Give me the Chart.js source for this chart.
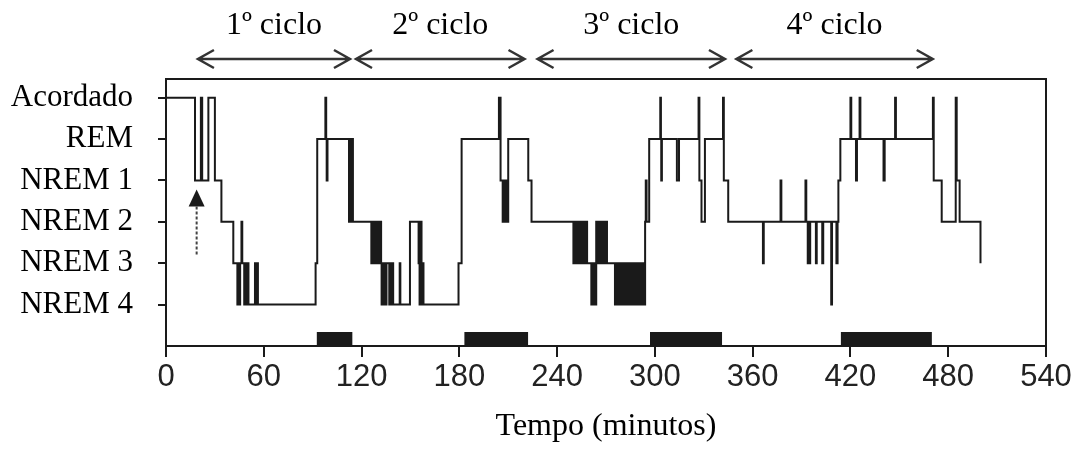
<!DOCTYPE html>
<html>
<head>
<meta charset="utf-8">
<script src="https://cdn.jsdelivr.net/npm/chart.js@4/dist/chart.umd.min.js"></script>
<style>
  html, body { margin: 0; padding: 0; background: #fff; }
  #wrap { width: 1081px; height: 452px; position: relative; }
</style>
</head>
<body>
<div id="wrap"><canvas id="chart"></canvas></div>
<script>
// stage code: 1 = NREM 4 ... 6 = Acordado
const stageNames = ['NREM 4', 'NREM 3', 'NREM 2', 'NREM 1', 'REM', 'Acordado']
const xTickValues = [0, 60, 120, 180, 240, 300, 360, 420, 480, 540]

// [minute, stage] : stage holds from that minute until the next entry
const cycle1Steps = [
  [0, 6], [17.8, 4], [21.4, 6], [22.2, 4], [26, 6], [30, 4], [34, 3], [41.3, 2],
  [43.8, 1], [44.4, 2], [45, 1], [45.5, 2], [46.3, 3], [46.8, 2],
  [48, 1], [48.7, 2], [49.3, 1], [50, 2], [50.6, 1],
  [54.6, 2], [55.2, 1], [55.8, 2], [56.4, 1],
  [91.8, 2], [92.8, 5], [97.8, 6], [98.3, 5], [98.6, 4], [99.1, 5],
  [112.3, 3], [112.9, 5], [113.5, 3], [114.1, 5], [114.7, 3]
]
const cycle2Steps = [
  [126, 2], [126.6, 3], [127.2, 2], [127.8, 3], [128.4, 2], [129, 3], [129.6, 2], [130.2, 3], [130.8, 2], [131.4, 3], [132, 2],
  [132.3, 1], [132.9, 2], [133.5, 1], [134.1, 2], [134.7, 1], [135.3, 2],
  [137, 1], [137.6, 2], [138.2, 1], [138.8, 2], [139.4, 1],
  [143.4, 2], [143.8, 1], [149.7, 3], [155, 2], [155.6, 1], [156.2, 3], [156.8, 1], [157.4, 2], [158, 1],
  [179.5, 2], [181.4, 5], [204.3, 6], [205.3, 4], [206.6, 3], [207.2, 4], [207.8, 3], [208.4, 4], [209, 3], [210, 5],
  [222.3, 4], [224.3, 3]
]
const cycle3Steps = [
  [250, 2], [250.6, 3], [251.2, 2], [251.8, 3], [252.4, 2], [253, 3], [253.6, 2], [254.2, 3], [254.8, 2], [255.4, 3],
  [256, 2], [256.6, 3], [257.2, 2], [257.8, 3], [258.4, 2],
  [261, 1], [261.6, 2], [262.2, 1], [262.8, 2], [263.4, 1],
  [264, 3], [264.6, 2], [265.2, 3], [265.8, 2], [266.4, 3], [267, 2], [267.6, 3], [268.2, 2], [268.8, 3], [269.4, 2], [270, 3], [270.6, 2],
  [275.5, 1], [276.1, 2], [276.7, 1], [277.3, 2], [277.9, 1], [278.5, 2], [279.1, 1], [279.7, 2], [280.3, 1], [280.9, 2],
  [281.5, 1], [282.1, 2], [282.7, 1], [283.3, 2], [283.9, 1], [284.5, 2], [285.1, 1], [285.7, 2], [286.3, 1], [286.9, 2],
  [287.5, 1], [288.1, 2], [288.7, 1], [289.3, 2], [289.9, 1], [290.5, 2], [291.1, 1], [291.7, 2], [292.3, 1], [292.9, 2], [293.5, 1],
  [294, 3], [294.4, 4], [294.9, 3], [296.5, 5],
  [303.3, 6], [303.7, 5], [303.9, 4], [304.3, 5], [313.5, 4], [314.8, 5],
  [326.8, 6], [327.3, 4], [328.6, 3], [330.7, 5], [341.8, 6], [342.3, 4], [345, 3]
]
const cycle4Steps = [
  [366.3, 2], [366.8, 3], [377.1, 4], [377.6, 3], [392.4, 4], [392.9, 3], [393.8, 2], [394.3, 3], [394.8, 2], [395.3, 3],
  [398.8, 2], [399.3, 3], [402.7, 2], [403.3, 3], [408.2, 1], [408.7, 3], [411.4, 2], [412.1, 3], [412.6, 4], [413.8, 5],
  [420, 6], [420.5, 5], [423.4, 4], [424, 5], [425.6, 6], [426.1, 5], [440.3, 4], [441, 5], [447.4, 6], [447.9, 5],
  [470.6, 6], [471.1, 4], [476, 3], [484.6, 6], [485.2, 4], [487, 3], [499.8, 2]
]

// REM periods marked by the black bars on the time axis
const remStart = [92.4, 183, 297, 414]
const remEnd = [114.5, 222.3, 341.3, 470]
const remBarHeight = 0.34

// cycle arrows over the plot
const cycleLabels = ['1º ciclo', '2º ciclo', '3º ciclo', '4º ciclo']
const cycleStart = [19.6, 116.6, 228, 350]
const cycleEnd = [112.9, 220, 343, 470.5]

// marker arrow under the first sleep onset
const onsetMinute = 18.8

const hypnoData = [...cycle1Steps, ...cycle2Steps, ...cycle3Steps, ...cycle4Steps].map(([x, y]) => ({ x, y }))

const remData = []
remStart.forEach((s, i) => {
  remData.push({ x: s, y: remBarHeight })
  remData.push({ x: remEnd[i], y: remBarHeight })
  remData.push({ x: remEnd[i] + 0.01, y: null })
})

const ink = '#1a1a1a'
const serif = '"Liberation Serif", "Times New Roman", serif'

const decorations = {
  id: 'decorations',
  afterDraw(chart) {
    const { ctx, chartArea, scales } = chart
    const x = scales.x
    const y = scales.y
    ctx.save()
    // frame top and right
    ctx.strokeStyle = ink
    ctx.lineWidth = 2
    ctx.beginPath()
    ctx.moveTo(chartArea.left, chartArea.top)
    ctx.lineTo(chartArea.right, chartArea.top)
    ctx.lineTo(chartArea.right, chartArea.bottom)
    ctx.stroke()

    // cycle arrows + labels
    const arrowY = 59
    ctx.lineWidth = 2.5
    ctx.font = '32px ' + serif
    ctx.textAlign = 'center'
    ctx.textBaseline = 'alphabetic'
    cycleLabels.forEach((label, i) => {
      const x0 = x.getPixelForValue(cycleStart[i])
      const x1 = x.getPixelForValue(cycleEnd[i])
      ctx.strokeStyle = '#333'
      ctx.beginPath()
      ctx.moveTo(x0, arrowY)
      ctx.lineTo(x1, arrowY)
      ctx.moveTo(x0 + 16, arrowY - 9)
      ctx.lineTo(x0, arrowY)
      ctx.lineTo(x0 + 16, arrowY + 9)
      ctx.moveTo(x1 - 16, arrowY - 9)
      ctx.lineTo(x1, arrowY)
      ctx.lineTo(x1 - 16, arrowY + 9)
      ctx.stroke()
      ctx.fillStyle = '#000'
      ctx.fillText(label, (x0 + x1) / 2, 34)
    })

    // small upward arrow
    const ax = x.getPixelForValue(onsetMinute)
    const tipY = y.getPixelForValue(3.78)
    ctx.fillStyle = ink
    ctx.beginPath()
    ctx.moveTo(ax, tipY)
    ctx.lineTo(ax - 8, tipY + 17)
    ctx.lineTo(ax + 8, tipY + 17)
    ctx.closePath()
    ctx.fill()
    ctx.strokeStyle = '#444'
    ctx.lineWidth = 2
    ctx.setLineDash([3, 2])
    ctx.beginPath()
    ctx.moveTo(ax, tipY + 17)
    ctx.lineTo(ax, y.getPixelForValue(2.2))
    ctx.stroke()
    ctx.restore()
  }
}

new Chart(document.getElementById('chart'), {
  type: 'line',
  data: {
    datasets: [
      {
        label: 'Hipnograma',
        data: hypnoData,
        stepped: true,
        borderColor: ink,
        borderWidth: 2,
        pointRadius: 0,
        fill: false
      },
      {
        label: 'REM',
        data: remData,
        borderWidth: 0,
        borderColor: ink,
        backgroundColor: ink,
        pointRadius: 0,
        spanGaps: false,
        fill: 'origin'
      }
    ]
  },
  options: {
    responsive: true,
    maintainAspectRatio: false,
    animation: false,
    layout: { padding: { top: 79, right: 35, left: 0, bottom: 0 } },
    plugins: { legend: { display: false }, tooltip: { enabled: false } },
    scales: {
      x: {
        type: 'linear',
        min: 0,
        max: 540,
        afterBuildTicks: (scale) => { scale.ticks = xTickValues.map(v => ({ value: v })) },
        ticks: {
          color: '#222',
          padding: 2,
          maxRotation: 0,
          font: { family: '"Liberation Sans", Arial, sans-serif', size: 31 }
        },
        grid: { drawOnChartArea: false, tickLength: 11, color: ink, lineWidth: 2 },
        border: { display: true, color: ink, width: 2 },
        title: {
          display: true,
          text: 'Tempo (minutos)',
          color: '#000',
          font: { family: serif, size: 32 },
          padding: { top: 0, bottom: 6 }
        },
        afterFit: (scale) => { scale.height = 106 }
      },
      y: {
        min: 0,
        max: 6.45,
        afterBuildTicks: (scale) => { scale.ticks = [1, 2, 3, 4, 5, 6].map(v => ({ value: v })) },
        ticks: {
          color: '#000',
          padding: 25,
          font: { family: serif, size: 31 },
          callback: (v) => stageNames[v - 1]
        },
        grid: { drawOnChartArea: false, tickLength: 8, color: ink, lineWidth: 2 },
        border: { display: true, color: ink, width: 2 },
        afterFit: (scale) => { scale.width = 166 }
      }
    }
  },
  plugins: [decorations]
})
</script>
</body>
</html>
